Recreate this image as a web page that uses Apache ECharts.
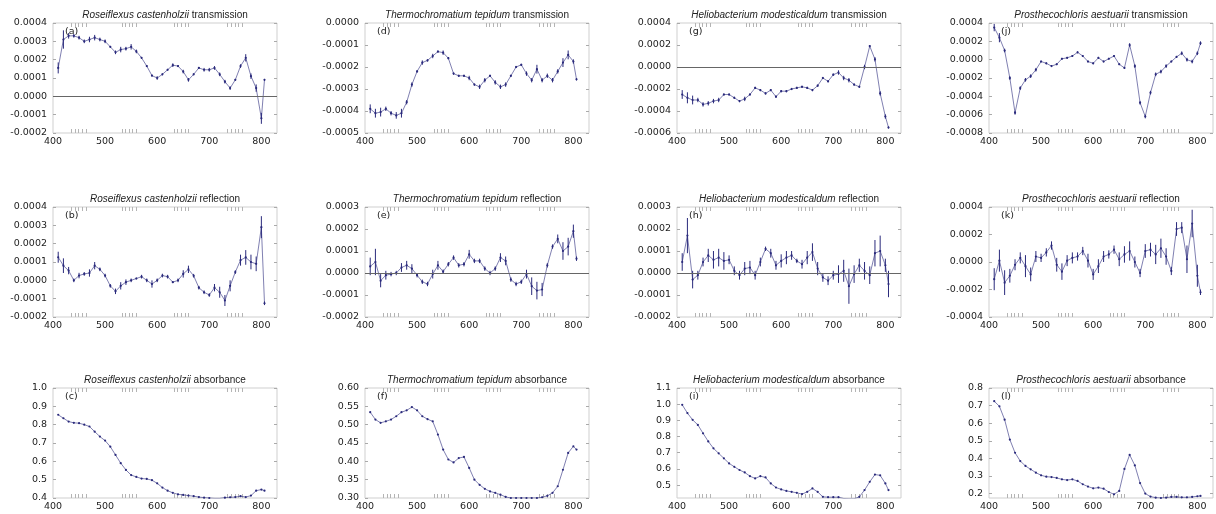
<!DOCTYPE html>
<html>
<head>
<meta charset="utf-8">
<script src="https://cdn.jsdelivr.net/npm/echarts@6/dist/echarts.min.js"></script>
<style>
  html, body { margin: 0; padding: 0; background: #fff; }
  #main { width: 1216px; height: 514px; }
</style>
</head>
<body>
<div id="main"></div>
<script>
// wavelength (nm) of each sample
var wavelengths = [410, 420, 430, 440, 450, 460, 470, 480, 490, 500,
  510, 520, 530, 540, 550, 560, 570, 580, 590, 600,
  610, 620, 630, 640, 650, 660, 670, 680, 690, 700,
  710, 720, 730, 740, 750, 760, 770, 780, 790, 800, 806];
var xTickValues = [400, 500, 600, 700, 800];
// the little clusters of marks along the top and bottom edges
var edgeMarks = [435, 442, 449, 456, 463, 532, 539, 546, 553, 560,
  632, 639, 646, 653, 660, 735, 742, 749, 756, 763];

// Roseiflexus castenholzii
var rcTrans = [0.000155, 0.00031, 0.00033, 0.00033, 0.00032, 0.0003, 0.00031, 0.00032, 0.00031, 0.0003,
  0.00027, 0.00024, 0.000255, 0.00026, 0.00027, 0.000245, 0.00021, 0.000165, 0.000113, 0.0001,
  0.00012, 0.000145, 0.00017, 0.000165, 0.000135, 0.00009, 0.00012, 0.000155, 0.000145, 0.000145,
  0.000155, 0.00012, 0.00008, 0.000045, 0.00009, 0.000165, 0.00021, 0.00011, 0.000045, -0.00012, 0.00009];
var rcTransErr = [0.00003, 0.00005, 0.000015, 0.00001, 0.00001, 0.00001, 0.000015, 0.000015, 0.00001, 0.00001,
  0.000005, 0.00001, 0.000015, 0.00001, 0.000015, 0.00001, 0.000005, 0.000005, 0.000005, 0.00001,
  0.000005, 0.000005, 0.00001, 0.000005, 0.00001, 0.00001, 0.000005, 0.000005, 0.00001, 0.00001,
  0.00001, 0.00001, 0.00001, 0.00001, 0.000005, 0.00001, 0.00002, 0.000015, 0.00002, 0.00003, 0.000005];
var rcRefl = [0.000126, 0.00008, 0.000053, 0, 0.000026, 0.000035, 0.00004, 0.00008, 0.00006, 0.000026,
  -0.00003, -0.00006, -0.00003, -0.00001, 0, 0.00001, 0.00002, 0, -0.00002, 0,
  0.000026, 0.00002, -0.00001, 0, 0.000035, 0.00006, 0.000025, -0.00004, -0.000065, -0.00008,
  -0.00004, -0.000065, -0.00011, -0.00003, 0.000045, 0.00011, 0.000125, 0.0001, 0.00009, 0.00029, -0.000125];
var rcReflErr = [0.00003, 0.00004, 0.00002, 0.00001, 0.000015, 0.00001, 0.00002, 0.00002, 0.00001, 0.00001,
  0.00001, 0.000015, 0.00002, 0.000015, 0.00001, 0.000005, 0.00001, 0.00001, 0.00002, 0.00001,
  0.00001, 0.00001, 0.000005, 0.00001, 0.00002, 0.00002, 0.00001, 0.00001, 0.00001, 0.00001,
  0.00002, 0.00003, 0.00003, 0.00003, 0.00001, 0.00003, 0.00004, 0.00004, 0.00004, 0.00006, 0.00001];
var rcAbs = [0.854, 0.835, 0.817, 0.81, 0.808, 0.8, 0.79, 0.762, 0.735, 0.713,
  0.68, 0.635, 0.59, 0.553, 0.525, 0.515, 0.506, 0.504, 0.497, 0.48,
  0.457, 0.44, 0.428, 0.42, 0.417, 0.413, 0.41, 0.405, 0.402, 0.4,
  0.398, 0.398, 0.402, 0.404, 0.405, 0.41, 0.405, 0.413, 0.44, 0.446, 0.44];

// Thermochromatium tepidum
var ttTrans = [-0.00039, -0.00041, -0.000405, -0.00039, -0.00041, -0.00042, -0.00041, -0.00036, -0.00028, -0.00022,
  -0.00018, -0.00017, -0.00015, -0.00013, -0.000135, -0.00016, -0.00023, -0.00024, -0.00024, -0.00025,
  -0.00028, -0.00029, -0.00026, -0.00024, -0.00027, -0.00029, -0.00028, -0.00024, -0.0002, -0.00019,
  -0.00023, -0.00026, -0.00021, -0.00026, -0.00024, -0.00026, -0.00022, -0.00018, -0.000145, -0.000175, -0.000256];
var ttTransErr = [0.00002, 0.00002, 0.00002, 0.00001, 0.00001, 0.000015, 0.00002, 0.00001, 0.00001, 0.000005,
  0.00001, 0.000005, 0.00001, 0.000005, 0.00001, 0.000005, 0.000005, 0.000005, 0.000005, 0.00001,
  0.000005, 0.00001, 0.00001, 0.000005, 0.00001, 0.00001, 0.00001, 0.000005, 0.000005, 0.000005,
  0.00001, 0.00001, 0.00002, 0.00001, 0.00001, 0.00001, 0.00001, 0.00002, 0.00002, 0.00001, 0.000005];
var ttRefl = [0.00003, 0.00005, -0.000035, -0.00001, -0.000005, 0, 0.000025, 0.000035, 0.00002, -0.00001,
  -0.00004, -0.00005, -0.000005, 0.000035, 0.000006, 0.00004, 0.00007, 0.000035, 0.00004, 0.000085,
  0.000055, 0.000055, 0.00002, 0, 0.00002, 0.00007, 0.000055, -0.00003, -0.00005, -0.00004,
  -0.000005, -0.00006, -0.00008, -0.000075, 0.000035, 0.00012, 0.000155, 0.0001, 0.00012, 0.00019, 0.000065];
var ttReflErr = [0.00004, 0.00006, 0.00003, 0.00002, 0.00001, 0.00001, 0.00002, 0.00002, 0.00002, 0.00001,
  0.00001, 0.00001, 0.00002, 0.00002, 0.00001, 0.00001, 0.00001, 0.00001, 0.00001, 0.00002,
  0.00001, 0.00001, 0.00001, 0.00001, 0.00001, 0.00002, 0.00002, 0.00001, 0.00001, 0.00001,
  0.00002, 0.00004, 0.00004, 0.00003, 0.00001, 0.00001, 0.00002, 0.00004, 0.00004, 0.00003, 0.00001];
var ttAbs = [0.534, 0.514, 0.505, 0.509, 0.514, 0.523, 0.534, 0.539, 0.548, 0.539,
  0.523, 0.515, 0.509, 0.473, 0.432, 0.405, 0.397, 0.409, 0.412, 0.382,
  0.35, 0.336, 0.325, 0.318, 0.314, 0.309, 0.303, 0.3, 0.3, 0.3,
  0.3, 0.3, 0.3, 0.302, 0.306, 0.314, 0.332, 0.377, 0.423, 0.441, 0.432];

// Heliobacterium modesticaldum
var hmTrans = [-0.00025, -0.00028, -0.0003, -0.0003, -0.00034, -0.00033, -0.00031, -0.0003, -0.00025, -0.00025,
  -0.00028, -0.00031, -0.00029, -0.00025, -0.00019, -0.00021, -0.00024, -0.00021, -0.00027, -0.00022,
  -0.00022, -0.0002, -0.00019, -0.00018, -0.00019, -0.00021, -0.00017, -0.0001, -0.00013, -0.00007,
  -0.00005, -0.0001, -0.00012, -0.00016, -0.00018, 0, 0.00019, 0.00007, -0.00024, -0.00045, -0.00055];
var hmTransErr = [0.00004, 0.00005, 0.00004, 0.00002, 0.00002, 0.00002, 0.00002, 0.00002, 0.00001, 0.00001,
  0.00001, 0.00001, 0.00002, 0.00001, 0.00001, 0.00001, 0.00001, 0.00001, 0.00001, 0.00001,
  0.00001, 0.00001, 0.00001, 0.00001, 0.00001, 0.00001, 0.00001, 0.00001, 0.00001, 0.00001,
  0.00002, 0.00002, 0.00002, 0.00001, 0.00001, 0.00002, 0.00001, 0.00002, 0.00002, 0.00002, 0.00001];
var hmRefl = [0.00005, 0.00017, -0.00003, -0.00001, 0.00005, 0.00008, 0.00006, 0.00007, 0.000055, 0.00006,
  0.00001, -0.00001, 0.00002, 0.000025, -0.00001, 0.00005, 0.00011, 0.00009, 0.000035, 0.000055,
  0.00007, 0.00008, 0.000055, 0.00004, 0.00007, 0.000095, 0.00002, -0.00002, -0.000035, -0.00001,
  -0.000005, 0.00001, -0.00006, -0.000005, 0.000035, 0.00001, -0.00001, 0.00009, 0.0001, 0.000035, -0.00005];
var hmReflErr = [0.00004, 0.00008, 0.00004, 0.00002, 0.00002, 0.00003, 0.00004, 0.00004, 0.00004, 0.00002,
  0.00002, 0.00002, 0.00003, 0.00003, 0.00002, 0.00002, 0.00001, 0.00002, 0.00002, 0.00003,
  0.00003, 0.00002, 0.00001, 0.00002, 0.00003, 0.00004, 0.00003, 0.00002, 0.00002, 0.00002,
  0.00004, 0.00005, 0.00008, 0.00004, 0.00003, 0.00004, 0.00004, 0.00006, 0.00007, 0.00003, 0.00006];
var hmAbs = [0.996, 0.945, 0.903, 0.872, 0.82, 0.77, 0.727, 0.696, 0.665, 0.634,
  0.613, 0.593, 0.578, 0.555, 0.541, 0.555, 0.547, 0.51, 0.485, 0.473,
  0.464, 0.458, 0.452, 0.444, 0.458, 0.479, 0.458, 0.427, 0.425, 0.425,
  0.425, 0.417, 0.415, 0.415, 0.427, 0.469, 0.52, 0.565, 0.56, 0.51, 0.469];

// Prosthecochloris aestuarii
var paTrans = [0.00035, 0.00024, 0.0001, -0.0002, -0.00058, -0.00031, -0.00022, -0.00018, -0.00011, -0.00002,
  -0.00004, -0.00007, -0.00005, 0.00001, 0.00002, 0.00004, 0.00008, 0.00004, -0.00002, -0.00004,
  0.00002, -0.00002, 0.00001, 0.00004, -0.00005, -0.00009, 0.00016, -0.00007, -0.00047, -0.00062,
  -0.00036, -0.00016, -0.00013, -0.00007, -0.00002, 0.00003, 0.00007, 0, -0.00002, 0.00007, 0.00018];
var paTransErr = [0.00004, 0.00005, 0.00002, 0.00002, 0.00002, 0.00002, 0.00002, 0.00002, 0.00002, 0.00001,
  0.00001, 0.00001, 0.00001, 0.00001, 0.00001, 0.00001, 0.00001, 0.00001, 0.00001, 0.00001,
  0.00001, 0.00001, 0.00001, 0.00001, 0.00001, 0.00001, 0.00002, 0.00002, 0.00002, 0.00002,
  0.00002, 0.00002, 0.00002, 0.00002, 0.00001, 0.00001, 0.00002, 0.00002, 0.00002, 0.00002, 0.00002];
var paRefl = [-0.000125, 0.00001, -0.00015, -0.0001, -0.00002, 0.00003, -0.00003, -0.00009, 0.00004, 0.00003,
  0.00007, 0.00012, -0.00002, -0.00007, 0.00001, 0.00003, 0.00004, 0.00008, 0.00001, -0.00009,
  -0.00003, 0.00004, 0.000055, 0.00009, 0.00002, 0.000055, 0.00008, 0, -0.00008, 0.00008,
  0.00009, 0.000055, 0.0001, 0.00004, -0.000065, 0.00024, 0.00025, 0.00002, 0.00028, -0.0001, -0.00022];
var paReflErr = [0.00008, 0.00008, 0.00009, 0.00005, 0.00004, 0.00004, 0.00008, 0.00005, 0.00004, 0.00003,
  0.00003, 0.00003, 0.00005, 0.00006, 0.00004, 0.00004, 0.00003, 0.00003, 0.00005, 0.00004,
  0.00005, 0.00004, 0.00003, 0.00003, 0.00005, 0.00006, 0.00007, 0.00004, 0.00003, 0.00005,
  0.00005, 0.00007, 0.00007, 0.00006, 0.00003, 0.00005, 0.00004, 0.0001, 0.0001, 0.00008, 0.00002];
var paAbs = [0.725, 0.696, 0.62, 0.507, 0.432, 0.385, 0.357, 0.338, 0.319, 0.304,
  0.296, 0.294, 0.289, 0.281, 0.277, 0.281, 0.272, 0.253, 0.24, 0.23,
  0.234, 0.228, 0.209, 0.196, 0.215, 0.34, 0.42, 0.36, 0.26, 0.2,
  0.183, 0.177, 0.175, 0.177, 0.181, 0.181, 0.179, 0.179, 0.181, 0.185, 0.187];

var colLeft = [53, 365, 677, 989];
var rowTop = [23, 207, 388];
var plotW = 224, plotH = 110;
var ink = "#2a2a7c";

var panels = [
  { col: 0, row: 0, tag: "(a)", species: "Roseiflexus castenholzii", kind: "transmission", y: rcTrans, err: rcTransErr, min: -0.0002, max: 0.0004, step: 0.0001, digits: 4, zero: true },
  { col: 0, row: 1, tag: "(b)", species: "Roseiflexus castenholzii", kind: "reflection", y: rcRefl, err: rcReflErr, min: -0.0002, max: 0.0004, step: 0.0001, digits: 4, zero: false },
  { col: 0, row: 2, tag: "(c)", species: "Roseiflexus castenholzii", kind: "absorbance", y: rcAbs, err: null, min: 0.4, max: 1.0, step: 0.1, digits: 1, zero: false },
  { col: 1, row: 0, tag: "(d)", species: "Thermochromatium tepidum", kind: "transmission", y: ttTrans, err: ttTransErr, min: -0.0005, max: 0, step: 0.0001, digits: 4, zero: false },
  { col: 1, row: 1, tag: "(e)", species: "Thermochromatium tepidum", kind: "reflection", y: ttRefl, err: ttReflErr, min: -0.0002, max: 0.0003, step: 0.0001, digits: 4, zero: true },
  { col: 1, row: 2, tag: "(f)", species: "Thermochromatium tepidum", kind: "absorbance", y: ttAbs, err: null, min: 0.3, max: 0.6, step: 0.05, digits: 2, zero: false },
  { col: 2, row: 0, tag: "(g)", species: "Heliobacterium modesticaldum", kind: "transmission", y: hmTrans, err: hmTransErr, min: -0.0006, max: 0.0004, step: 0.0002, digits: 4, zero: true },
  { col: 2, row: 1, tag: "(h)", species: "Heliobacterium modesticaldum", kind: "reflection", y: hmRefl, err: hmReflErr, min: -0.0002, max: 0.0003, step: 0.0001, digits: 4, zero: true },
  { col: 2, row: 2, tag: "(i)", species: "Heliobacterium modesticaldum", kind: "absorbance", y: hmAbs, err: null, min: 0.42, max: 1.1, labels: [0.5, 0.6, 0.7, 0.8, 0.9, 1.0, 1.1], digits: 1, zero: false },
  { col: 3, row: 0, tag: "(j)", species: "Prosthecochloris aestuarii", kind: "transmission", y: paTrans, err: paTransErr, min: -0.0008, max: 0.0004, step: 0.0002, digits: 4, zero: false },
  { col: 3, row: 1, tag: "(k)", species: "Prosthecochloris aestuarii", kind: "reflection", y: paRefl, err: paReflErr, min: -0.0004, max: 0.0004, step: 0.0002, digits: 4, zero: false },
  { col: 3, row: 2, tag: "(l)", species: "Prosthecochloris aestuarii", kind: "absorbance", y: paAbs, err: null, min: 0.175, max: 0.8, labels: [0.2, 0.3, 0.4, 0.5, 0.6, 0.7, 0.8], digits: 1, zero: false }
];

var grids = [], xAxes = [], yAxes = [], series = [], titles = [];
var labelFont = { fontFamily: "DejaVu Sans", fontSize: 9.5, color: "#222" };
var n = panels.length;

panels.forEach(function (p, i) {
  var left = colLeft[p.col], top = rowTop[p.row];
  grids.push({ left: left, top: top, width: plotW, height: plotH, show: true, borderColor: "#cfcfcf", borderWidth: 1, backgroundColor: "transparent" });

  // bottom axis with labels, top axis only carries the edge marks
  xAxes[i] = {
    type: "value", gridIndex: i, min: 400, max: 830, position: "bottom",
    splitLine: { show: false },
    axisLine: { show: false, onZero: false },
    axisTick: { show: true, inside: true, length: 4, lineStyle: { color: "#b4b4b4" }, customValues: edgeMarks },
    axisLabel: Object.assign({ margin: 4, customValues: xTickValues }, labelFont)
  };
  xAxes[n + i] = {
    type: "value", gridIndex: i, min: 400, max: 830, position: "top",
    splitLine: { show: false },
    axisLine: { show: false, onZero: false },
    axisTick: { show: true, inside: true, length: 4, lineStyle: { color: "#b4b4b4" }, customValues: edgeMarks },
    axisLabel: { show: false }
  };

  var yLeft = {
    type: "value", gridIndex: i, min: p.min, max: p.max, position: "left",
    splitLine: { show: false },
    axisLine: { show: false, onZero: false },
    axisTick: { show: true, inside: true, length: 3, lineStyle: { color: "#aaa" } },
    axisLabel: Object.assign({ margin: 6, formatter: function (v) { return v.toFixed(p.digits); } }, labelFont)
  };
  var yRight = {
    type: "value", gridIndex: i, min: p.min, max: p.max, position: "right",
    splitLine: { show: false },
    axisLine: { show: false, onZero: false },
    axisTick: { show: true, inside: true, length: 3, lineStyle: { color: "#aaa" } },
    axisLabel: { show: false }
  };
  if (p.labels) {
    yLeft.axisLabel.customValues = p.labels;
    yLeft.axisTick.customValues = p.labels;
    yRight.axisTick.customValues = p.labels;
  } else {
    yLeft.interval = p.step;
    yRight.interval = p.step;
  }
  yAxes[i] = yLeft;
  yAxes[n + i] = yRight;

  var pts = wavelengths.map(function (w, k) { return [w, p.y[k]]; });
  var line = {
    type: "line", xAxisIndex: i, yAxisIndex: i, data: pts,
    symbol: "circle", symbolSize: 2.2, showAllSymbol: true,
    itemStyle: { color: ink },
    lineStyle: { color: ink, width: 0.8, opacity: 0.75 },
    silent: true, animation: false, z: 3
  };
  if (p.zero) {
    line.markLine = {
      silent: true, symbol: "none", label: { show: false },
      lineStyle: { color: "#666", width: 1, type: "solid" },
      data: [{ yAxis: 0 }]
    };
  }
  series.push(line);

  if (p.err) {
    var bars = wavelengths.map(function (w, k) { return [w, p.y[k] - p.err[k], p.y[k] + p.err[k]]; });
    series.push({
      type: "custom", xAxisIndex: i, yAxisIndex: i, data: bars,
      encode: { x: 0, y: [1, 2] }, silent: true, animation: false, z: 2,
      renderItem: function (params, api) {
        var lo = api.coord([api.value(0), api.value(1)]);
        var hi = api.coord([api.value(0), api.value(2)]);
        return {
          type: "line",
          shape: { x1: lo[0], y1: lo[1], x2: hi[0], y2: hi[1] },
          style: { stroke: ink, lineWidth: 1 }
        };
      }
    });
  }

  titles.push({
    text: "{i|" + p.species + "} " + p.kind,
    left: left + plotW / 2, top: top - 13, textAlign: "center", padding: 0,
    textStyle: {
      fontFamily: "Liberation Sans", fontSize: 10, fontWeight: "normal", color: "#222", lineHeight: 10,
      rich: { i: { fontFamily: "Liberation Sans", fontSize: 10, fontStyle: "italic", color: "#222", lineHeight: 10 } }
    }
  });
  titles.push({
    text: p.tag, left: left + 12, top: top + 4, padding: 0,
    textStyle: { fontFamily: "DejaVu Sans", fontSize: 9.5, fontWeight: "normal", color: "#222" }
  });
});

var chart = echarts.init(document.getElementById("main"), null, { renderer: "canvas" });
chart.setOption({
  backgroundColor: "#fff",
  animation: false,
  title: titles,
  grid: grids,
  xAxis: xAxes,
  yAxis: yAxes,
  series: series
});
</script>
</body>
</html>
